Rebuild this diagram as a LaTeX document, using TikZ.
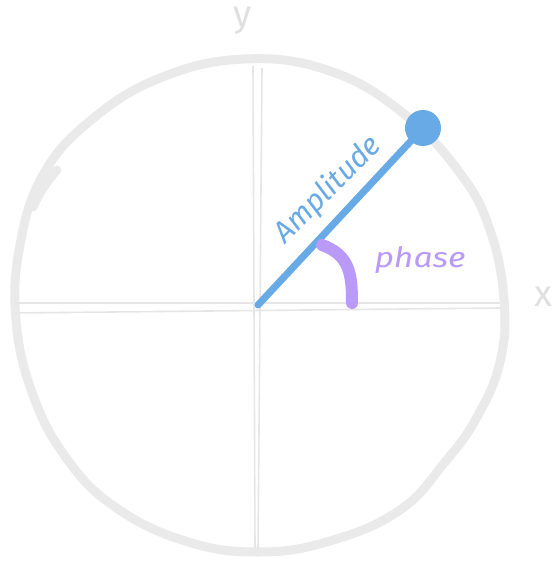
\documentclass[tikz,border=0pt]{standalone}
\usepackage{fontspec}
\setmainfont{Fira Sans}
\definecolor{ringgray}{HTML}{EAEAEA}
\definecolor{axisgray}{HTML}{E6E6E6}
\definecolor{labelgray}{HTML}{E0E0E0}
\definecolor{ampblue}{HTML}{68AAE6}
\definecolor{phasepurple}{HTML}{B99AF8}
\tikzset{
  ring/.style={draw=ringgray, line width=9pt, line cap=round, line join=round},
  axisline/.style={draw=axisgray, line width=1.6pt},
  axislabel/.style={text=labelgray, anchor=base, font=\fontsize{37}{37}\selectfont},
  amp/.style={draw=ampblue, line width=7pt, line cap=round},
  phasearc/.style={draw=phasepurple, line width=12pt, line cap=round},
}
\begin{document}
\begin{tikzpicture}[x=1pt,y=-1pt]
\useasboundingbox (0,0) rectangle (554,564);
% ring
\draw[ring] plot[smooth cycle, tension=0.7] coordinates {
 (245,59) (330,71) (403,113) (460,173) (490,230) (504,300) (500,362)
 (477,417) (445,462) (400,510) (330,541) (258,552) (185,541) (115,507)
 (67,459) (33,395) (16,320) (20,245) (43,175) (90,121) (160,78)};
\draw[ring] (33,207) .. controls (39,193) and (47,181) .. (57,170);
% axes
\draw[axisline] (253,66) -- (255,548);
\draw[axisline] (262,68) -- (258,550);
\draw[axisline] (15,303) -- (500,303);
\draw[axisline] (15,313) -- (500,308);
\node[axislabel] (ylab) at (243,27) {y};
\node[axislabel] (xlab) at (543,306) {x};
% amplitude
\coordinate (o) at (258,305);
\node[circle, fill=ampblue, minimum size=36pt, inner sep=0pt] (p) at (423,128) {};
\draw[amp] (o) -- (p.center);
\node[text=ampblue, rotate=45, font=\fontsize{30}{30}\selectfont\itshape] (amplab) at (328,190) {Amplitude};
% phase
\coordinate (pa) at (322,245);
\coordinate (pb) at (352,303);
\draw[phasearc] (pa) .. controls (350,255) and (352,275) .. (pb);
\node[text=phasepurple, font=\fontsize{28}{28}\selectfont\itshape\addfontfeature{FakeStretch=1.2}, anchor=base west] (phlab) at (371,267) {phase};
\end{tikzpicture}
\end{document}
